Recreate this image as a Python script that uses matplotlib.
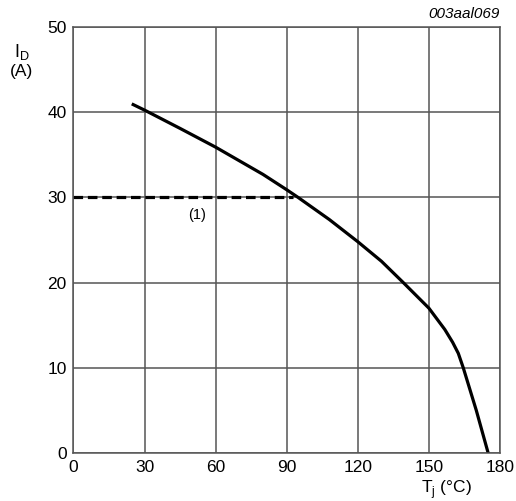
import matplotlib
matplotlib.use("Agg")
import matplotlib.pyplot as plt

plt.rcParams['font.family'] = ['Liberation Sans', 'DejaVu Sans']

# derating curve
tj = [25.2, 30, 45, 60, 70, 80, 90, 94.8, 108, 120, 130, 139.2, 150, 156.7, 160, 162.4, 164.5, 170, 175]
id_ = [40.9, 40.25, 38.1, 35.9, 34.3, 32.7, 30.9, 30.0, 27.4, 24.8, 22.5, 20.0, 17.0, 14.5, 13.0, 11.7, 10.0, 5.0, 0.0]

# limit line (1)
lim_x = [0, 92.5]
lim_y = [30, 30]

xticks = [0, 30, 60, 90, 120, 150, 180]
yticks = [0, 10, 20, 30, 40, 50]

fig = plt.figure(figsize=(5.16, 5.01), dpi=100)
ax = fig.add_axes([0.1424, 0.0958, 0.8266, 0.8502])

ax.plot(tj, id_, color='black', lw=2.3, solid_joinstyle='round')
ax.plot(lim_x, lim_y, color='black', lw=2.3, ls=(0, (3.0, 1.5)))

ax.set_xlim(0, 180)
ax.set_ylim(0, 50)
ax.set_xticks(xticks)
ax.set_yticks(yticks)
ax.tick_params(length=0, labelsize=12.5, pad=5)
ax.grid(True, color='#555555', lw=1.1)
ax.set_axisbelow(True)
for s in ax.spines.values():
    s.set_color('#555555')
    s.set_linewidth(1.1)

ax.text(52, 27.9, '(1)', fontsize=10.5, ha='center', va='center')

fig.text(0.969, 0.972, '003aal069', fontsize=11, style='italic', ha='right', va='center')
fig.text(0.042, 0.896, r'I$_\mathregular{D}$', fontsize=13, ha='center', va='center')
fig.text(0.042, 0.857, '(A)', fontsize=12.5, ha='center', va='center')
fig.text(0.865, 0.022, r'T$_\mathregular{j}$ (°C)', fontsize=12.5, ha='center', va='center')

fig.savefig('out.png', dpi=100)
